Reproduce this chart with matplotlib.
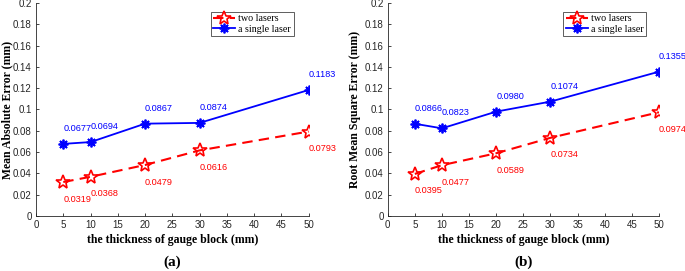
import matplotlib.pyplot as plt

# datos
espesor = [5, 10, 20, 30, 50]
mae_dos = [0.0319, 0.0368, 0.0479, 0.0616, 0.0793]
mae_uno = [0.0677, 0.0694, 0.0867, 0.0874, 0.1183]
rmse_dos = [0.0395, 0.0477, 0.0589, 0.0734, 0.0974]
rmse_uno = [0.0866, 0.0823, 0.0980, 0.1074, 0.1355]

fig = plt.figure(figsize=(6.85, 2.71), dpi=100)
ax1 = fig.add_axes([0.0526, 0.203, 0.398, 0.786])
ax2 = fig.add_axes([0.566, 0.203, 0.396, 0.786])

paneles = [
    (ax1, mae_dos, mae_uno, 'Mean Absolute Error (mm)', '(a)', -0.105, 0.945),
    (ax2, rmse_dos, rmse_uno, 'Root Mean Square Error (mm)', '(b)', -0.122, 0.952),
]

for ax, dos, uno, ylab, letra, ylx, legx in paneles:
    ax.plot(espesor, dos, color='red', linestyle='--', linewidth=1.5,
            marker='*', markersize=10, markerfacecolor='none',
            markeredgewidth=1.2, label='two lasers', dashes=(5, 3))
    ax.plot(espesor, uno, color='blue', linestyle='-', linewidth=1.3,
            marker=(8, 2, 0), markersize=7, markeredgewidth=1.3,
            label='a single laser')
    for x, y in zip(espesor, uno):
        ax.text(x, y + 0.0145, f'{y:.4f}', color='blue', fontsize=6.6,
                family='Liberation Sans', ha='left', va='center')
    for x, y in zip(espesor, dos):
        ax.text(x, y - 0.016, f'{y:.4f}', color='red', fontsize=6.6,
                family='Liberation Sans', ha='left', va='center')
    ax.set_xlim(0, 50)
    ax.set_ylim(0, 0.2)
    ax.set_xticks(range(0, 51, 5))
    ax.set_yticks([i * 0.02 for i in range(11)])
    ax.set_yticklabels(['0', '0.02', '0.04', '0.06', '0.08', '0.1', '0.12',
                        '0.14', '0.16', '0.18', '0.2'])
    ax.tick_params(direction='in', length=2, width=0.6, labelsize=7,
                   colors='#262626', pad=3)
    for t in ax.get_xticklabels() + ax.get_yticklabels():
        t.set_family('Liberation Sans')
    ax.spines['top'].set_visible(False)
    ax.spines['right'].set_visible(False)
    ax.spines['left'].set_linewidth(0.6)
    ax.spines['bottom'].set_linewidth(0.6)
    ax.spines['left'].set_color('#262626')
    ax.spines['bottom'].set_color('#262626')
    ax.set_xlabel('the thickness of gauge block (mm)', family='Liberation Serif',
                  fontweight='bold', fontsize=8.5, labelpad=3)
    ax.set_ylabel(ylab, family='Liberation Serif', fontweight='bold',
                  fontsize=8.5, va='center')
    ax.yaxis.set_label_coords(ylx, 0.5)
    leg = ax.legend(loc='upper right', bbox_to_anchor=(legx, 0.96),
                    prop={'family': 'Liberation Serif', 'size': 7.2},
                    fancybox=False, edgecolor='#444444', framealpha=1,
                    handlelength=2.2, handletextpad=0.3, borderpad=0.25,
                    labelspacing=0.15, borderaxespad=0)
    leg.get_frame().set_linewidth(0.6)
    ax.text(0.5, -0.216, letra, transform=ax.transAxes, ha='center',
            va='center', family='Liberation Serif', fontweight='bold',
            fontsize=11)

fig.savefig('out.png', dpi=100)
